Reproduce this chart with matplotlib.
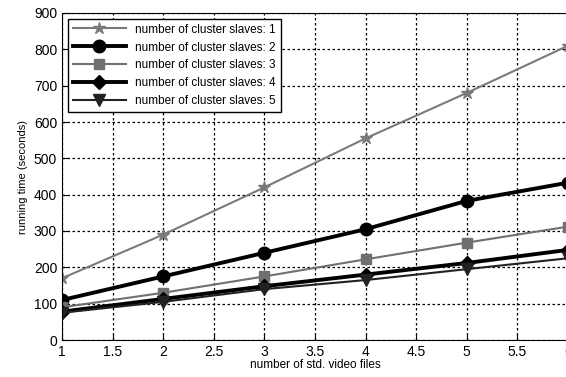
import matplotlib
matplotlib.use("Agg")
import matplotlib.pyplot as plt

plt.rcParams['font.family'] = ['Liberation Sans', 'DejaVu Sans']

files = [1, 2, 3, 4, 5, 6]
slaves1 = [170, 290, 420, 555, 680, 810]
slaves2 = [110, 175, 240, 305, 383, 433]
slaves3 = [90, 130, 175, 222, 268, 312]
slaves4 = [78, 113, 148, 180, 212, 248]
slaves5 = [75, 105, 140, 165, 195, 225]
labels = ["number of cluster slaves: %d" % i for i in range(1, 6)]

fig = plt.figure(figsize=(5.66, 3.77), dpi=100)
ax = fig.add_axes([62/566, 37/377, 506/566, 327/377])

ax.plot(files, slaves1, color="#7a7a7a", lw=1.5, marker="*", ms=9, label=labels[0])
ax.plot(files, slaves2, color="black", lw=2.8, marker="o", ms=9, label=labels[1])
ax.plot(files, slaves3, color="#707070", lw=1.5, marker="s", ms=7, label=labels[2])
ax.plot(files, slaves4, color="black", lw=2.8, marker="D", ms=7, label=labels[3])
ax.plot(files, slaves5, color="#222222", lw=1.5, marker="v", ms=8, label=labels[4])

ax.set_xlim(1, 6)
ax.set_ylim(0, 900)
ax.set_xticks([1, 1.5, 2, 2.5, 3, 3.5, 4, 4.5, 5, 5.5, 6])
ax.set_xticklabels(["1", "1.5", "2", "2.5", "3", "3.5", "4", "4.5", "5", "5.5", "6"])
ax.set_yticks(range(0, 901, 100))
ax.grid(True, color="black", linestyle=(0, (2, 2)), lw=0.9)
ax.tick_params(labelsize=10, direction="in", length=4)
ax.set_xlabel("number of std. video files", fontsize=8.5, labelpad=0)
ax.set_ylabel("running time (seconds)", fontsize=8, labelpad=4)

leg = ax.legend(loc="upper left", fontsize=8.5, fancybox=False, framealpha=1,
                edgecolor="black", handlelength=4.5, borderaxespad=0.5)
leg.get_frame().set_linewidth(1)

fig.savefig("out.png", dpi=100)
